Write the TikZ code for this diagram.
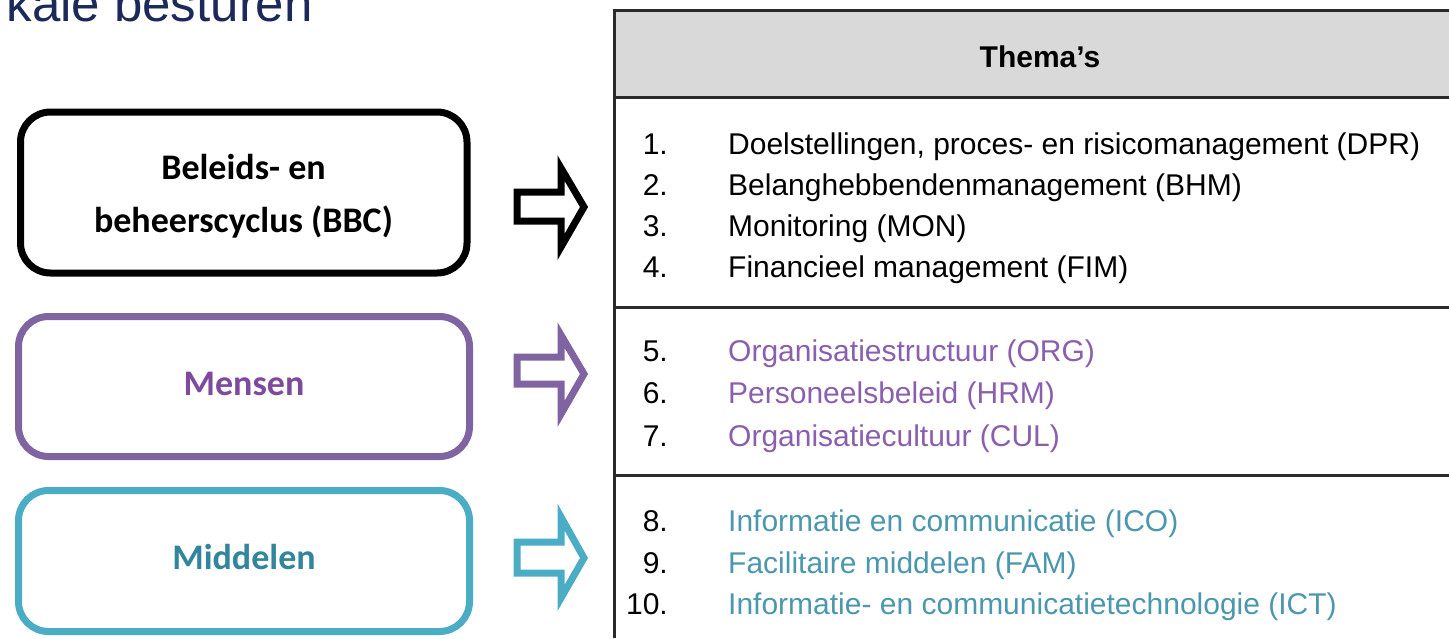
\documentclass[tikz,border=0pt]{standalone}
\usepackage{fontspec}
\setmainfont{Liberation Sans}
\newfontfamily\carl{Carlito}
\definecolor{navy}{HTML}{1B2A5A}
\definecolor{purp}{HTML}{8064A2}
\definecolor{purptxt}{HTML}{7D4A9E}
\definecolor{purpitem}{HTML}{8A5FAE}
\definecolor{teal}{HTML}{4BACC6}
\definecolor{tealtxt}{HTML}{31859C}
\definecolor{tealitem}{HTML}{4B97AE}
\definecolor{hdr}{HTML}{D9D9D9}
\definecolor{rule}{HTML}{2A2A2A}
\begin{document}
\begin{tikzpicture}[x=1pt,y=-1pt,
  leftbox/.style={rounded corners=30pt, line width=7pt},
  boxtxt/.style={font=\carl\bfseries\fontsize{36}{53}\selectfont, align=center},
  blockarrow/.style={line width=7pt, line join=miter, fill=white},
  num/.style={anchor=base east, font=\fontsize{30}{36}\selectfont, inner sep=0pt},
  item/.style={anchor=base west, font=\fontsize{30}{36}\selectfont, inner sep=0pt},
  tline/.style={line width=3pt, draw=rule}]
\useasboundingbox (0,0) rectangle (1449,638);
% title
\node[anchor=base east, inner sep=0pt, text=navy, font=\fontsize{51}{60}\selectfont] (title) at (313,21) {kale besturen};
% left boxes
\draw[leftbox, draw=black] (20.5,112) rectangle (467,273);
\node[boxtxt, text=black] (bbc) at (243.5,196) {Beleids- en\\beheerscyclus (BBC)};
\draw[leftbox, draw=purp] (18.5,316.5) rectangle (469.5,456.5);
\node[boxtxt, text=purptxt] (mensen) at (244,384) {Mensen};
\draw[leftbox, draw=teal] (18.5,490.5) rectangle (469.5,631.5);
\node[boxtxt, text=tealtxt] (middelen) at (244,557) {Middelen};
% block arrows
\draw[blockarrow, draw=black] (517,192) -- (561,192) -- (561,168) -- (584,207) -- (561,247) -- (561,221) -- (517,221) -- cycle;
\draw[blockarrow, draw=purp] (517,357) -- (561,357) -- (561,335) -- (584,374) -- (561,414) -- (561,384) -- (517,384) -- cycle;
\draw[blockarrow, draw=teal] (517,542) -- (561,542) -- (561,517) -- (584,558) -- (561,598) -- (561,573) -- (517,573) -- cycle;
% table
\fill[hdr] (614,10) rectangle (1449,97);
\draw[tline] (1449,10) -- (614,10) -- (614,638);
\draw[tline] (614,97) -- (1449,97);
\draw[tline] (614,307) -- (1449,307);
\draw[tline] (614,475) -- (1449,475);
\node[anchor=base, inner sep=0pt, font=\bfseries\fontsize{30}{36}\selectfont] (hdrtxt) at (1040,67) {Thema's};
% items 1-4
\node[num] (n1) at (668,154) {1.};
\node[item] (t1) at (728,154) {Doelstellingen, proces- en risicomanagement (DPR)};
\node[num] (n2) at (668,195) {2.};
\node[item] (t2) at (728,195) {Belanghebbendenmanagement (BHM)};
\node[num] (n3) at (668,236) {3.};
\node[item] (t3) at (728,236) {Monitoring (MON)};
\node[num] (n4) at (668,277) {4.};
\node[item] (t4) at (728,277) {Financieel management (FIM)};
% items 5-7
\node[num] (n5) at (668,361) {5.};
\node[item, text=purpitem] (t5) at (728,361) {Organisatiestructuur (ORG)};
\node[num] (n6) at (668,403) {6.};
\node[item, text=purpitem] (t6) at (728,403) {Personeelsbeleid (HRM)};
\node[num] (n7) at (668,446) {7.};
\node[item, text=purpitem] (t7) at (728,446) {Organisatiecultuur (CUL)};
% items 8-10
\node[num] (n8) at (668,531) {8.};
\node[item, text=tealitem] (t8) at (728,531) {Informatie en communicatie (ICO)};
\node[num] (n9) at (668,573) {9.};
\node[item, text=tealitem] (t9) at (728,573) {Facilitaire middelen (FAM)};
\node[num] (n10) at (668,614) {10.};
\node[item, text=tealitem] (t10) at (728,614) {Informatie- en communicatietechnologie (ICT)};
\end{tikzpicture}
\end{document}
